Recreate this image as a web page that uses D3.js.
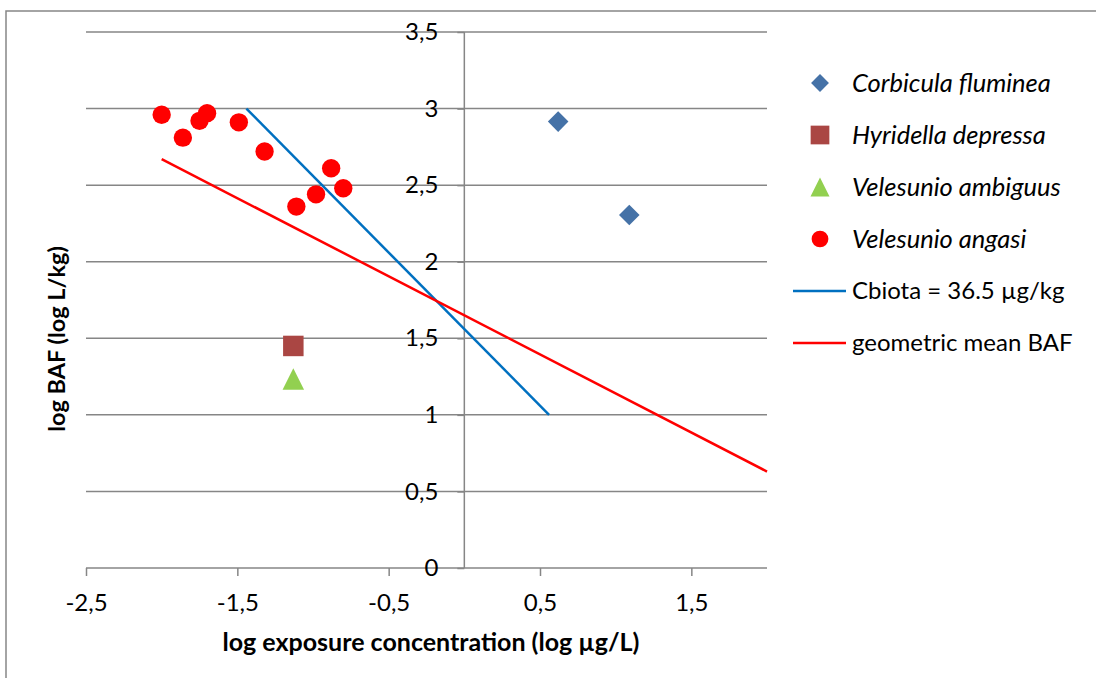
<!DOCTYPE html>
<html lang="en">
<head>
  <meta charset="utf-8">
  <title>log BAF vs log exposure concentration</title>
  <script src="https://d3js.org/d3.v7.min.js"></script>
  <style type="text/css">
  body {
    margin: 0;
    background: #fff;
  }
  text {
    font-family: Lato, "Open Sans", sans-serif;
    fill: #000;
  }
  .grid line {
    stroke: #868686;
    stroke-width: 1.5px;
  }
  .tick-label {
    font-size: 24px;
  }
  .axis-title {
    font-weight: bold;
  }
  .legend-label {
    font-size: 25.5px;
  }
  .legend-label.plain {
    font-size: 24px;
  }
  </style>
</head>
<body>
<div id="chart"></div>

<script type="text/javascript">

// data
var corbiculaX = [0.62, 1.09];
var corbiculaY = [2.915, 2.305];

var hyridellaX = [-1.13];
var hyridellaY = [1.45];

var ambiguusX = [-1.13];
var ambiguusY = [1.234];

var angasiX = [-2.00, -1.86, -1.75, -1.70, -1.49, -1.32, -1.11, -0.98, -0.88, -0.80];
var angasiY = [2.96, 2.81, 2.92, 2.97, 2.91, 2.72, 2.36, 2.44, 2.61, 2.48];

// Cbiota = 36.5 ug/kg line and geometric mean BAF line (end points)
var cbiotaX = [-1.44, 0.56];
var cbiotaY = [3.0, 1.0];

var geoMeanX = [-2.0, 2.0];
var geoMeanY = [2.67, 0.63];

var xTicks = [-2.5, -1.5, -0.5, 0.5, 1.5];
var yTicks = [0, 0.5, 1, 1.5, 2, 2.5, 3, 3.5];

var legendLabels = ["Corbicula fluminea", "Hyridella depressa", "Velesunio ambiguus",
                    "Velesunio angasi", "Cbiota = 36.5 \u00b5g/kg", "geometric mean BAF"];

var width = 1096;
var height = 678;

var diamondColor = '#4572A7'
var squareColor = '#AA4643'
var triangleColor = '#92D050'
var circleColor = '#FF0000'
var cbiotaColor = '#0070C0'
var geoColor = '#FF0000'
var gridColor = '#868686'

// plot area (window.top is reserved, hence the prefix)
var plotLeft = 86, plotRight = 767, plotTop = 32, plotBottom = 568;

var x = d3.scaleLinear().domain([-2.5, 2]).range([plotLeft, plotRight]);
var y = d3.scaleLinear().domain([0, 3.5]).range([plotBottom, plotTop]);

// decimal comma like the original
var fmt = function(v) { return String(v).replace('.', ','); };

var svg = d3.select("#chart")
  .append("svg")
  .attr("width", width)
  .attr("height", height);

// outer frame
svg.append("rect")
  .attr("x", 6)
  .attr("y", 11)
  .attr("width", 1200)
  .attr("height", 800)
  .style("fill", "none")
  .style("stroke", gridColor)
  .style("stroke-width", 1.5);

// horizontal gridlines
svg.append("g")
  .attr("class", "grid")
  .selectAll("line")
  .data(yTicks.filter(function(d) { return d > 0; }))
  .enter()
  .append("line")
  .attr("x1", plotLeft)
  .attr("x2", plotRight)
  .attr("y1", function(d) { return y(d); })
  .attr("y2", function(d) { return y(d); });

// x axis sits on y = 0, ticks pointing down
var xAxis = d3.axisBottom(x)
  .tickValues(xTicks)
  .tickSize(8)
  .tickPadding(18)
  .tickFormat(fmt);

var gx = svg.append("g")
  .attr("transform", "translate(0," + y(0) + ")")
  .call(xAxis);
gx.select(".domain").attr("d", "M" + plotLeft + ",0H" + plotRight);

// y axis crosses at x = 0, labels to the left
var yAxis = d3.axisLeft(y)
  .tickValues(yTicks)
  .tickSize(7)
  .tickPadding(19)
  .tickFormat(fmt);

var gy = svg.append("g")
  .attr("transform", "translate(" + x(0) + ",0)")
  .call(yAxis);

[gx, gy].forEach(function(g) {
  g.attr("font-family", null).attr("font-size", null);
  g.selectAll(".domain, .tick line")
    .style("stroke", gridColor)
    .style("stroke-width", 1.5);
  g.selectAll(".tick text")
    .attr("class", "tick-label")
    .attr("fill", "#000");
});
gy.select(".domain").attr("d", "M0," + plotTop + "V" + plotBottom);

// lines
var line = d3.line()
  .x(function(d) { return x(d[0]); })
  .y(function(d) { return y(d[1]); });

svg.append("path")
  .datum(d3.zip(cbiotaX, cbiotaY))
  .attr("d", line)
  .style("fill", "none")
  .style("stroke", cbiotaColor)
  .style("stroke-width", 2.5);

svg.append("path")
  .datum(d3.zip(geoMeanX, geoMeanY))
  .attr("d", line)
  .style("fill", "none")
  .style("stroke", geoColor)
  .style("stroke-width", 2.5);

// Excel style triangle: as tall as it is wide, centred on its box
var boxTriangle = {
  draw: function(context, size) {
    var h = Math.sqrt(size * 2) / 2;
    context.moveTo(0, -h);
    context.lineTo(h, h);
    context.lineTo(-h, h);
    context.closePath();
  }
};

var series = [
  {xs: corbiculaX, ys: corbiculaY, type: d3.symbolSquare, size: 212, rotate: 45, color: diamondColor, lsize: 160},
  {xs: hyridellaX, ys: hyridellaY, type: d3.symbolSquare, size: 420, rotate: 0, color: squareColor, lsize: 350},
  {xs: ambiguusX, ys: ambiguusY, type: boxTriangle, size: 230, rotate: 0, color: triangleColor, lsize: 180},
  {xs: angasiX, ys: angasiY, type: d3.symbolCircle, size: 265, rotate: 0, color: circleColor, lsize: 220}
];

series.forEach(function(s) {
  svg.append("g")
    .selectAll("path")
    .data(d3.zip(s.xs, s.ys))
    .enter()
    .append("path")
    .attr("d", d3.symbol().type(s.type).size(s.size))
    .attr("transform", function(d) {
      return "translate(" + x(d[0]) + "," + y(d[1]) + ") rotate(" + s.rotate + ")";
    })
    .style("fill", s.color);
});

// legend
var legX = 820, legY = 83, legStep = 52;
var legend = svg.append("g");

series.forEach(function(s, i) {
  legend.append("path")
    .attr("d", d3.symbol().type(s.type).size(s.lsize))
    .attr("transform", "translate(" + legX + "," + (legY + i * legStep) + ") rotate(" + s.rotate + ")")
    .style("fill", s.color);
});

[cbiotaColor, geoColor].forEach(function(c, i) {
  var ly = legY + (i + 4) * legStep;
  legend.append("line")
    .attr("x1", 793)
    .attr("x2", 846)
    .attr("y1", ly)
    .attr("y2", ly)
    .style("stroke", c)
    .style("stroke-width", 2.5);
});

legend.selectAll("text")
  .data(legendLabels)
  .enter()
  .append("text")
  .attr("class", function(d, i) { return i < 4 ? "legend-label" : "legend-label plain"; })
  .attr("x", 852)
  .attr("y", function(d, i) { return legY + i * legStep; })
  .attr("dy", "0.35em")
  .style("font-style", function(d, i) { return i < 4 ? "italic" : "normal"; })
  .text(function(d) { return d; });

// axis titles
svg.append("text")
  .attr("class", "axis-title")
  .attr("x", 431)
  .attr("y", 651)
  .attr("text-anchor", "middle")
  .style("font-size", "25px")
  .text("log exposure concentration (log \u00b5g/L)");

svg.append("text")
  .attr("class", "axis-title")
  .attr("transform", "translate(65,339) rotate(-90)")
  .attr("text-anchor", "middle")
  .style("font-size", "23.5px")
  .text("log BAF (log L/kg)");

</script>
</body>
</html>
